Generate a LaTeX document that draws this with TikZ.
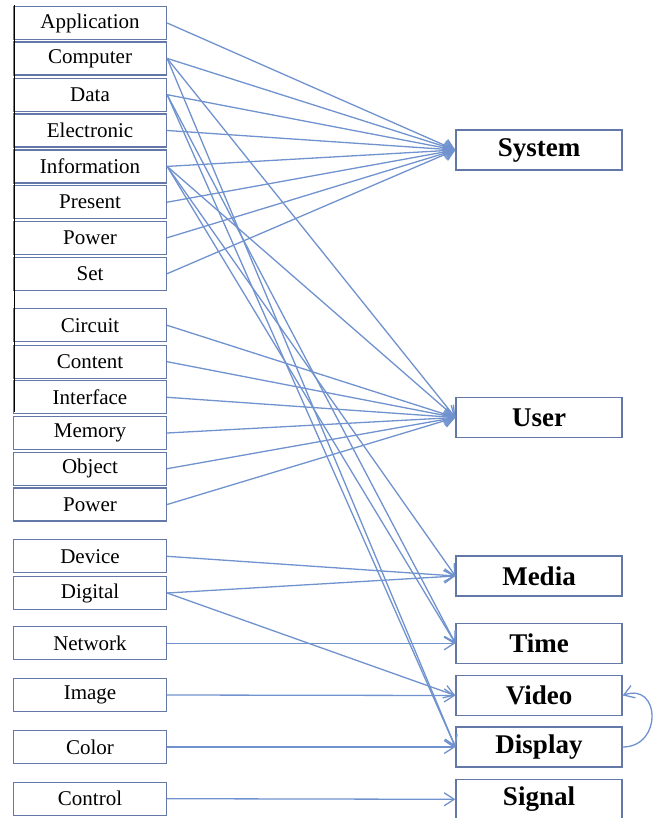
\documentclass[tikz,border=0pt]{standalone}
\usepackage{fontspec}
\setmainfont{Liberation Serif}
\usetikzlibrary{arrows.meta}
\definecolor{linkblue}{RGB}{112,146,206}
\definecolor{boxblue}{RGB}{100,120,168}

\begin{document}
\begin{tikzpicture}[x=1pt, y=-1pt,
  term/.style={draw=boxblue, line width=1.3pt, minimum width=153pt, minimum height=33pt, inner sep=0pt, font=\fontsize{21}{24}\selectfont},
  topic/.style={draw=boxblue, line width=1.3pt, minimum width=166pt, minimum height=40pt, inner sep=0pt, font=\fontsize{27}{30}\selectfont\bfseries},
  link/.style={draw=linkblue, line width=1.3pt, -{Straight Barb[length=10pt,width=13pt]}}]
  \useasboundingbox (0,0) rectangle (653,818);

  % Left terms
  \foreach \name/\y/\txt in {app/23/Application, comp/58.4/Computer, data/94.7/Data,
      elec/130.5/Electronic, info/166.4/Information, pres/202.2/Present,
      powa/237.8/Power, set/273.7/Set,
      circ/325.3/Circuit, cont/361.7/Content, intf/397.3/Interface,
      mem/433/Memory, obj/468.7/Object, powb/504.5/Power,
      dev/556.3/Device, dig/593/Digital, net/643.3/Network,
      img/695/Image, col/747/Color, ctrl/798.7/Control}
    \node[term] (\name) at (90,\y) {\txt};

  % Left rule
  \draw[black, line width=1pt] (14,5) -- (14,412);

  % Right topics
  \node[topic] (system) at (539,150) {System};
  \node[topic] (user) at (539,417.5) {User};
  \node[topic] (media) at (539,576) {Media};
  \node[topic] (time) at (539,643.3) {Time};
  \node[topic] (video) at (539,695.5) {Video};
  \node[topic] (display) at (539,747) {Display};
  \node[topic] (signal) at (539,799.3) {Signal};

  % Links
  \foreach \src/\dst in {app/system, comp/system, data/system, elec/system,
      info/system, pres/system, powa/system, set/system,
      comp/user, info/user, circ/user, cont/user, intf/user, mem/user, obj/user, powb/user,
      info/media, dev/media, dig/media,
      data/time, info/time, net/time,
      dig/video, img/video,
      comp/display, data/display, col/display,
      ctrl/signal}
    \draw[link] (\src.east) -- (\dst.west);

  \draw[link] (display.east) to[out=0, in=20, looseness=2] (video.east);
\end{tikzpicture}
\end{document}
